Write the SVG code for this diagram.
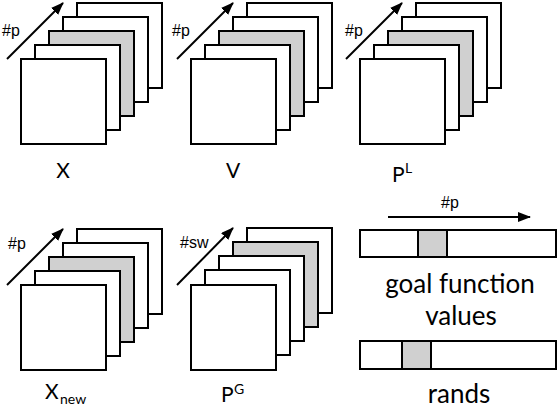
<svg xmlns="http://www.w3.org/2000/svg" width="560" height="408" viewBox="0 0 560 408">
<defs>
<style>
.sq{fill:#fff;stroke:#000;stroke-width:2}
.g{fill:#d0d0d0}
.ar{stroke:#000;stroke-width:2;fill:none;marker-end:url(#ah)}
.sm{font-family:"Liberation Sans",Arial,sans-serif;font-size:16px;fill:#000}
.lb{font-family:Lato,"Open Sans",sans-serif;font-size:21px;fill:#000}
.sup{font-family:Lato,"Open Sans",sans-serif;font-size:14px;fill:#000}
.big{font-family:Lato,"Open Sans",sans-serif;font-size:26px;fill:#000}
</style>
<marker id="ah" markerUnits="userSpaceOnUse" markerWidth="14" markerHeight="11" refX="12" refY="5" orient="auto">
<path d="M0,0 L13,5 L0,10 z" fill="#000"/>
</marker>
</defs>
<g id="stack-X">
<rect class="sq" x="77" y="3" width="85" height="85"/>
<rect class="sq" x="63" y="17" width="85" height="85"/>
<rect class="sq g" x="49" y="31" width="85" height="85"/>
<rect class="sq" x="35" y="45" width="85" height="85"/>
<rect class="sq" x="21" y="59" width="85" height="85"/>
<text class="lb" x="63" y="178" text-anchor="middle">X</text>
</g>
<g id="stack-V">
<rect class="sq" x="247" y="3" width="85" height="85"/>
<rect class="sq" x="233" y="17" width="85" height="85"/>
<rect class="sq g" x="219" y="31" width="85" height="85"/>
<rect class="sq" x="205" y="45" width="85" height="85"/>
<rect class="sq" x="191" y="59" width="85" height="85"/>
<text class="lb" x="233" y="178" text-anchor="middle">V</text>
</g>
<g id="stack-PL">
<rect class="sq" x="416" y="3" width="85" height="85"/>
<rect class="sq" x="402" y="17" width="85" height="85"/>
<rect class="sq g" x="388" y="31" width="85" height="85"/>
<rect class="sq" x="374" y="45" width="85" height="85"/>
<rect class="sq" x="360" y="59" width="85" height="85"/>
<text class="lb" x="392" y="182">P</text>
<text class="sup" x="405" y="173">L</text>
</g>
<g id="stack-Xnew">
<rect class="sq" x="77" y="229" width="85" height="85"/>
<rect class="sq" x="63" y="243" width="85" height="85"/>
<rect class="sq g" x="49" y="257" width="85" height="85"/>
<rect class="sq" x="35" y="271" width="85" height="85"/>
<rect class="sq" x="21" y="285" width="85" height="85"/>
<text class="lb" x="45" y="399">X</text>
<text class="sup" x="60" y="404">new</text>
</g>
<g id="stack-PG">
<rect class="sq" x="247" y="228" width="85" height="85"/>
<rect class="sq g" x="233" y="242" width="85" height="85"/>
<rect class="sq" x="219" y="256" width="85" height="85"/>
<rect class="sq" x="205" y="270" width="85" height="85"/>
<rect class="sq" x="191" y="285" width="85" height="85"/>
<text class="lb" x="221" y="402">P</text>
<text class="sup" x="234" y="394">G</text>
</g>
<g id="goal-values">
<rect class="sq" x="360" y="230" width="196" height="27"/>
<rect class="sq g" x="418" y="230" width="29" height="27"/>
<text class="big" x="460" y="293" text-anchor="middle">goal function</text>
<text class="big" x="461" y="325" text-anchor="middle">values</text>
</g>
<g id="rands">
<rect class="sq" x="360" y="341" width="196" height="28"/>
<rect class="sq g" x="402" y="341" width="29" height="28"/>
<text class="big" x="459" y="403" text-anchor="middle">rands</text>
</g>
<g id="connectors">
<line class="ar" x1="7" y1="59" x2="63" y2="3"/>
<text class="sm" x="2" y="36">#p</text>
<line class="ar" x1="177" y1="59" x2="233" y2="3"/>
<text class="sm" x="172" y="36">#p</text>
<line class="ar" x1="346" y1="59" x2="402" y2="3"/>
<text class="sm" x="345" y="36">#p</text>
<line class="ar" x1="7" y1="285" x2="63" y2="229"/>
<text class="sm" x="8" y="249">#p</text>
<line class="ar" x1="177" y1="285" x2="233" y2="228"/>
<text class="sm" x="180" y="248">#sw</text>
<line class="ar" x1="388" y1="217" x2="530" y2="217"/>
<text class="sm" x="441" y="208">#p</text>
</g>
</svg>
